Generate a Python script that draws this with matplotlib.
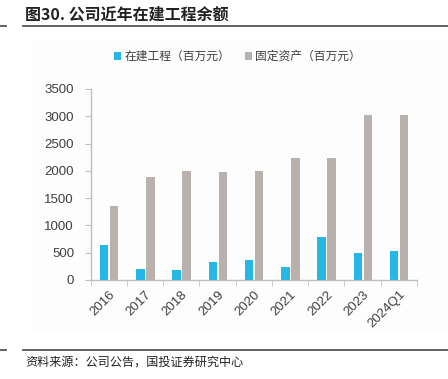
import matplotlib.pyplot as plt
import numpy as np
from matplotlib.lines import Line2D
from matplotlib.patches import Rectangle

plt.rcParams['font.family'] = ['Liberation Sans', 'Noto Sans CJK SC', 'DejaVu Sans']

# data (百万元)
years = ["2016", "2017", "2018", "2019", "2020", "2021", "2022", "2023", "2024Q1"]
cip = [650, 195, 190, 330, 370, 230, 780, 490, 530]          # 在建工程
fixed = [1360, 1890, 2000, 1980, 1990, 2230, 2230, 3030, 3020]  # 固定资产

blue = '#25b7e6'
grey = '#b9b1ae'
txt = '#404040'
axc = '#bfbfbf'
cjk = ['Noto Sans CJK SC', 'DejaVu Sans']

fig = plt.figure(figsize=(4.48, 3.79), dpi=100)

# faint chart panel
fig.add_artist(Rectangle((32 / 448, 1 - 330 / 379), 1 - 32 / 448, 290 / 379,
                         transform=fig.transFigure, facecolor='#fdfdfd',
                         edgecolor='none', zorder=-5))

# title + rules
fig.text(25 / 448, 1 - 15 / 379, "图30. 公司近年在建工程余额", fontsize=11.5,
         fontweight='bold', color='#222222', va='center', ha='left', family=cjk)
for y in (26, 350):
    fig.add_artist(Line2D([23 / 448, 1], [1 - y / 379] * 2, color='#555555', lw=1.3))
    fig.add_artist(Line2D([0, 6 / 448], [1 - y / 379] * 2, color='#555555', lw=1.3))
fig.text(25 / 448, 1 - 362 / 379, "资料来源：公司公告，国投证券研究中心", fontsize=8.7,
         color='#222222', va='center', ha='left', style='italic', family=cjk)

ax = fig.add_axes([90.7 / 448, 1 - 280 / 379, (417 - 90.7) / 448, (280 - 89) / 379])
ax.set_zorder(2)
ax.set_facecolor('none')

x = np.arange(len(years))
w = 0.23
ax.bar(x - 0.13, cip, width=w, color=blue, label='在建工程（百万元）', zorder=3)
ax.bar(x + 0.145, fixed, width=w, color=grey, label='固定资产（百万元）', zorder=3)

ax.set_xlim(-0.5, len(years) - 0.5)
ax.set_ylim(0, 3500)
ax.set_yticks(range(0, 3501, 500))
ax.tick_params(axis='y', length=4, color=axc, labelsize=9.5, labelcolor=txt, pad=8)

ax.set_xticks(x)
ax.set_xticklabels(years, rotation=45, ha='right', rotation_mode='anchor')
ax.tick_params(axis='x', length=0, labelsize=9.5, labelcolor=txt, pad=6)
ax.set_xticks(np.arange(-0.5, len(years)), minor=True)
ax.tick_params(axis='x', which='minor', length=4, color=axc)

for s in ('top', 'right'):
    ax.spines[s].set_visible(False)
for s in ('left', 'bottom'):
    ax.spines[s].set_color(axc)
    ax.spines[s].set_linewidth(1.0)

leg = ax.legend(loc='lower center', bbox_to_anchor=(0.45, 1.08), ncol=2, frameon=False,
                handlelength=0.6, handleheight=0.6, handletextpad=0.3,
                columnspacing=1.2, labelcolor=txt, prop={'family': cjk, 'size': 8.5})

fig.savefig('out.png', dpi=100)
